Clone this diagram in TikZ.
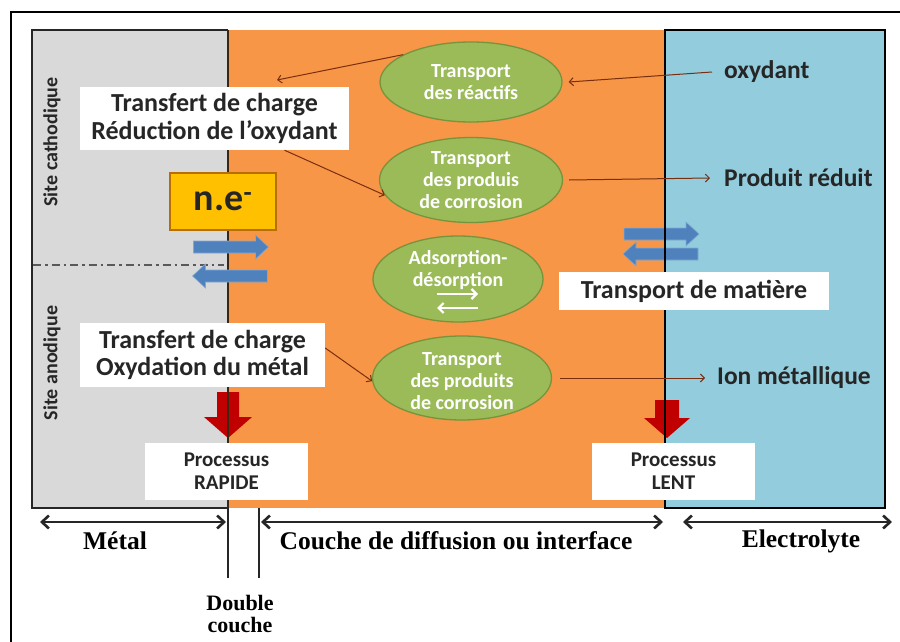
\documentclass[tikz,border=0pt]{standalone}
\usepackage{fontspec}
\setmainfont{Carlito}
\newfontfamily\timesf{Liberation Serif}
\usetikzlibrary{arrows.meta,calc,shapes.geometric}
\definecolor{metalc}{HTML}{D9D9D9}
\definecolor{orngc}{HTML}{F79646}
\definecolor{aquac}{HTML}{93CDDD}
\definecolor{olivec}{HTML}{9BBB59}
\definecolor{oliveD}{HTML}{77933C}
\definecolor{goldc}{HTML}{FFC000}
\definecolor{goldD}{HTML}{B86E00}
\definecolor{bluec}{HTML}{4F81BD}
\definecolor{redc}{HTML}{C00000}
\definecolor{brownc}{HTML}{7A2E10}
\definecolor{inkc}{HTML}{262626}
\begin{document}
\begin{tikzpicture}[x=1pt,y=-1pt,
  txtbox/.style={fill=white, inner sep=0pt, align=center, text=inkc,
     font=\bfseries\fontsize{26}{27.5}\selectfont},
  procbox/.style={fill=white, inner sep=0pt, align=center, text=inkc,
     minimum width=163pt, minimum height=57pt,
     font=\bfseries\fontsize{21}{23}\selectfont},
  ell/.style={ellipse, fill=olivec, draw=oliveD, line width=1.3pt, inner sep=0pt},
  elltxt/.style={inner sep=0pt, align=center, text=white, font=\bfseries\fontsize{20}{22}\selectfont},
  sidelbl/.style={inner sep=0pt, anchor=west, text=inkc,
     font=\bfseries\fontsize{25.5}{27}\selectfont},
  sitelbl/.style={inner sep=0pt, rotate=90, text=inkc,
     font=\bfseries\fontsize{20}{22}\selectfont},
  dimlbl/.style={inner sep=0pt, text=black, font=\timesf\bfseries\fontsize{25.5}{27}\selectfont},
  thinarr/.style={draw=brownc, line width=1pt, -{Straight Barb[length=4pt,width=8pt]}},
  dimarr/.style={draw=inkc, line width=2.6pt, {Straight Barb[length=7pt,width=13pt]}-{Straight Barb[length=7pt,width=13pt]}},
  bluearrow/.pic={\fill[bluec, draw=bluec!70!white, line width=0.6pt]
     (-37,-6) -- (25,-6) -- (25,-12) -- (38,0) -- (25,12) -- (25,6) -- (-37,6) -- cycle;}
]
\useasboundingbox (0,0) rectangle (900,642);
\fill[white] (0,0) rectangle (900,642);
% outer frame
\draw[line width=2pt, black] (11,642) -- (11,12) -- (900,12);
% regions
\fill[orngc] (228,30) rectangle (665,508);
\fill[metalc] (32,30) rectangle (228,508);
\fill[aquac] (665,30) rectangle (885,508);
% red block arrows
\fill[redc] (217,392) -- (239,392) -- (239,417) -- (252,417) -- (228,438) -- (204,417) -- (217,417) -- cycle;
\fill[redc] (655,400) -- (679,400) -- (679,418) -- (690,418) -- (667,438) -- (644,418) -- (655,418) -- cycle;
% right blue arrows (under the boundary line)
\pic at (661,234) {bluearrow};
\pic[rotate=180] at (661,254) {bluearrow};
% borders
\draw[line width=1.6pt, draw=inkc] (228,30) -- (32,30) -- (32,508) -- (228,508);
\draw[line width=1.4pt, draw=black!70!brown] (228,30) -- (228,508);
\draw[line width=1.8pt, draw=black] (665,30) rectangle (885,508);
% dash-dot separation
\draw[line width=1.6pt, draw=black!65, dash pattern=on 8pt off 4pt on 2.5pt off 4pt] (33,265) -- (224,265);
% site labels
\node[sitelbl] (sc) at (52,142) {Site cathodique};
\node[sitelbl] (sa) at (52,363) {Site anodique};
% text boxes
\node[txtbox, minimum width=269pt, minimum height=63pt] (tc1) at (214.5,118.5) {Transfert de charge\\R\'eduction de l’oxydant};
\node[txtbox, minimum width=245pt, minimum height=64pt] (tc2) at (202.5,355) {Transfert de charge\\Oxydation du m\'etal};
\node[txtbox, minimum width=270pt, minimum height=38pt] (tm) at (694,291) {Transport de mati\`ere};
\node[procbox] (pr) at (226.5,471.5) {Processus\\RAPIDE};
\node[procbox] (pl) at (673.5,471.5) {Processus\\LENT};
% n.e- box
\node[fill=goldc, draw=goldD, line width=1.2pt, minimum width=106pt, minimum height=57pt,
      inner sep=0pt, text=inkc, font=\bfseries\fontsize{38}{40}\selectfont] (ne) at (223,201.5) {n.e\textsuperscript{-}};
% left blue arrows
\pic at (230.5,247) {bluearrow};
\pic[rotate=180] at (230.5,276) {bluearrow};
% ellipses
\node[ell, minimum width=182pt, minimum height=80pt] (e1) at (471,82) {};
\node[elltxt] (e1t) at (e1.center) {Transport\\des r\'eactifs};
\node[ell, minimum width=183pt, minimum height=85pt] (e2) at (471,180) {};
\node[elltxt] (e2t) at (e2.center) {Transport\\des produis\\de corrosion};
\node[ell, minimum width=170pt, minimum height=86pt] (e3) at (458,279) {};
\node[elltxt] (e3t) at (458,270) {Adsorption-\\d\'esorption};
\draw[white, line width=2.2pt, -{Straight Barb[length=5pt,width=10pt]}] ($(e3.center)+(-21,15)$) -- ($(e3.center)+(20,15)$);
\draw[white, line width=2.2pt, -{Straight Barb[length=5pt,width=10pt]}] ($(e3.center)+(20,29)$) -- ($(e3.center)+(-21,29)$);
\node[ell, minimum width=179pt, minimum height=84pt] (e4) at (462,378) {};
\node[elltxt] (e4t) at (462,381) {Transport\\des produits\\de corrosion};
% side labels
\node[sidelbl] (oxy) at (724,72) {oxydant};
\node[sidelbl] (prod) at (724,178) {Produit r\'eduit};
\node[sidelbl] (ion) at (717,378) {Ion m\'etallique};
% thin arrows
\draw[thinarr] (e1.158) -- (277,80);
\draw[thinarr] ([xshift=70pt]tc1.south) -- (e2.190);
\draw[thinarr] ([yshift=7pt]tc2.east) -- (e4.182);
\draw[thinarr] ([xshift=-12pt]oxy.west) -- ([xshift=6pt]e1.east);
\draw[thinarr] ([xshift=6pt]e2.east) -- ([xshift=-14pt]prod.west);
\draw[thinarr] ([xshift=8pt]e4.east) -- ([xshift=-12pt]ion.west);
% bottom dimensions
\coordinate (a1) at (40,522); \coordinate (a2) at (226,522);
\coordinate (b1) at (261,522); \coordinate (b2) at (663,522);
\coordinate (c1) at (683,522); \coordinate (c2) at (892,522);
\draw[dimarr] (a1) -- (a2);
\draw[dimarr] (b1) -- (b2);
\draw[dimarr] (c1) -- (c2);
\coordinate (v1t) at (228,508); \coordinate (v1b) at (228,578);
\coordinate (v2t) at (259,508); \coordinate (v2b) at (259,578);
\draw[line width=2.4pt, draw=inkc] (v1t) -- (v1b);
\draw[line width=2.4pt, draw=inkc] (v2t) -- (v2b);
\node[dimlbl] (lm) at (115,541) {M\'etal};
\node[dimlbl] (lc) at (456,541) {Couche de diffusion ou interface};
\node[dimlbl] (le) at (801,541) {Electrolyte};
\node[inner sep=0pt, align=center, font=\timesf\bfseries\fontsize{22}{22}\selectfont] (ld) at (240,614) {Double\\couche};
\end{tikzpicture}
\end{document}
